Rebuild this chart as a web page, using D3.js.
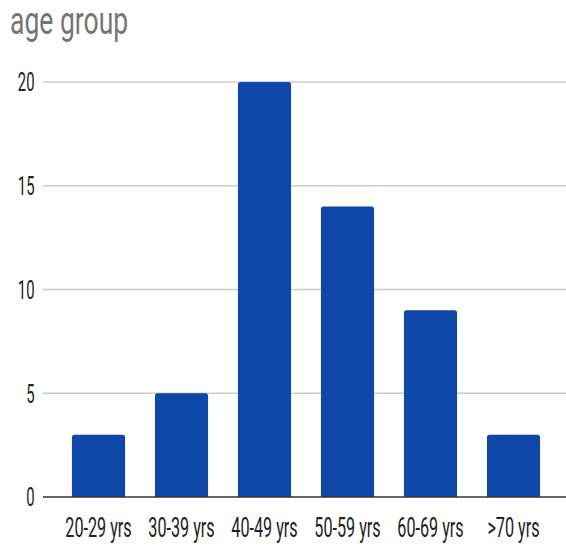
<!DOCTYPE html>
<html><head><meta charset="utf-8">
<script src="https://cdn.jsdelivr.net/npm/d3@7"></script>
<style>body{margin:0;background:#fff}svg{display:block}</style>
</head><body>
<script>
const categories = ["20-29 yrs","30-39 yrs","40-49 yrs","50-59 yrs","60-69 yrs",">70 yrs"];
const values = [3,5,20,14,9,3];
const yTicks = [0,5,10,15,20];
const title = "age group";

const W=566,H=546;
const svg=d3.select("body").append("svg").attr("width",W).attr("height",H);
const x=d3.scaleBand().domain(categories).range([57,555]).paddingInner(0.36).paddingOuter(0.18);
const y=d3.scaleLinear().domain([0,20]).range([497,82]);
const font="Roboto, Arial, sans-serif";

// title
svg.append("text").attr("transform","translate(10,33.5) scale(0.68,1)")
  .attr("font-family",font).attr("font-size",39).attr("fill","#757575").text(title);

// gridlines
svg.append("g").selectAll("line").data(yTicks.filter(d=>d>0)).join("line")
  .attr("x1",43).attr("x2",W).attr("y1",d=>y(d)).attr("y2",d=>y(d))
  .attr("stroke","#cccccc").attr("stroke-width",1.5);

// y tick labels
svg.append("g").selectAll("text").data(yTicks).join("text")
  .attr("transform",d=>`translate(34.5,${y(d)}) scale(0.57,1)`)
  .attr("text-anchor","end").attr("dy","0.36em")
  .attr("font-family",font).attr("font-size",26).attr("fill","#222")
  .text(d=>d);

// bars with rounded top corners
const r=2.5;
svg.append("g").selectAll("path").data(categories).join("path")
  .attr("fill","#0e47a7")
  .attr("d",(c,i)=>{
    const x0=x(c), w=x.bandwidth(), yt=y(values[i]), yb=y(0);
    return `M${x0},${yb}V${yt+r}Q${x0},${yt} ${x0+r},${yt}H${x0+w-r}Q${x0+w},${yt} ${x0+w},${yt+r}V${yb}Z`;
  });

// baseline
svg.append("line").attr("x1",43).attr("x2",W).attr("y1",y(0)).attr("y2",y(0))
  .attr("stroke","#333").attr("stroke-width",1.5);

// x labels
svg.append("g").selectAll("text").data(categories).join("text")
  .attr("transform",c=>`translate(${x(c)+x.bandwidth()/2},536.5) scale(0.6,1)`)
  .attr("text-anchor","middle")
  .attr("font-family",font).attr("font-size",27).attr("fill","#222")
  .text(c=>c);
</script>
</body></html>
